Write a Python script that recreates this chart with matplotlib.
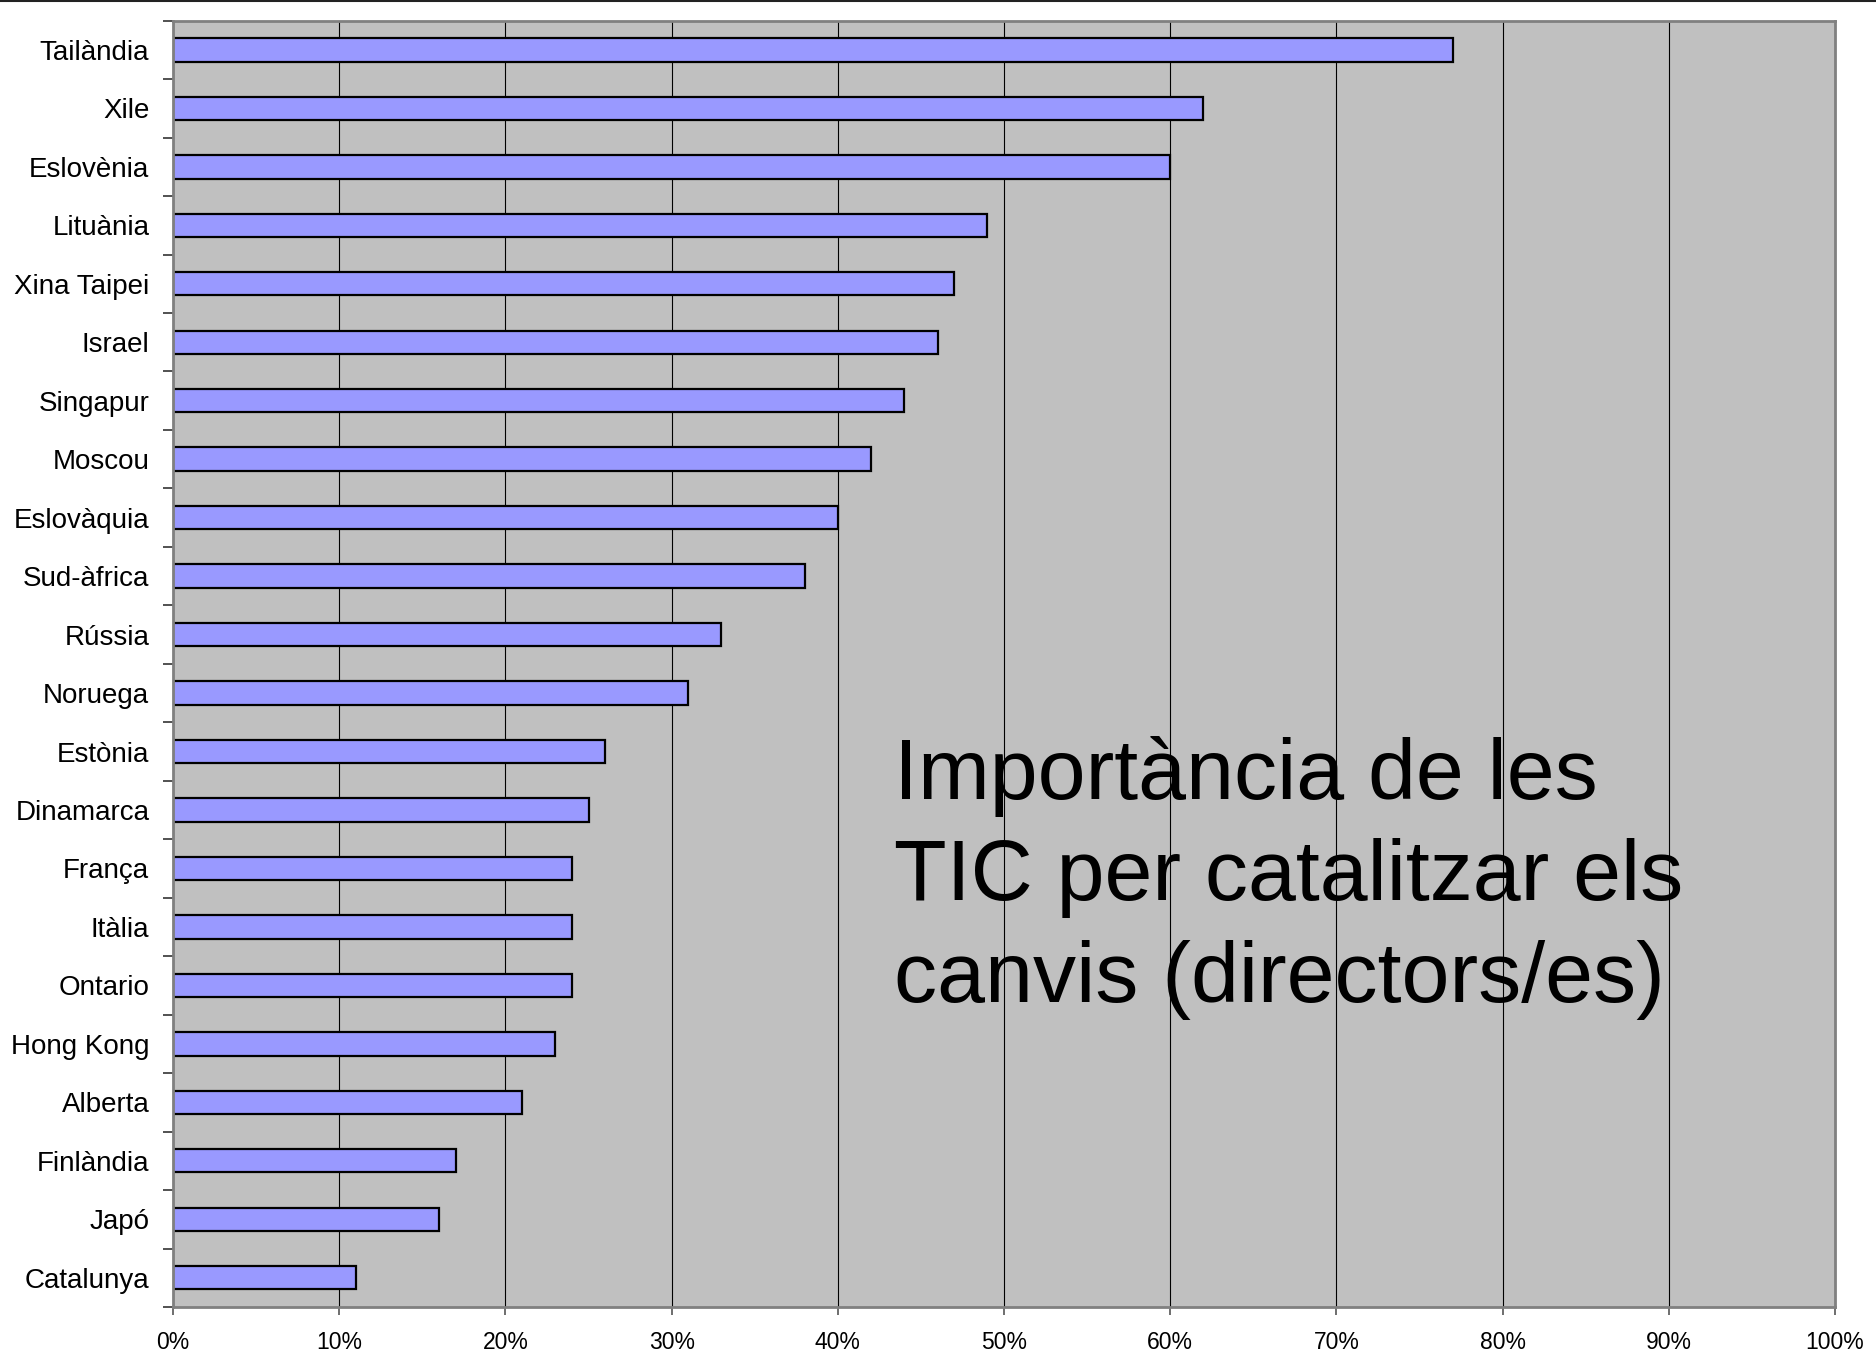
import matplotlib
matplotlib.use("Agg")
import matplotlib.pyplot as plt
from matplotlib.lines import Line2D
from matplotlib.ticker import FixedLocator, PercentFormatter


plt.rcParams["font.family"] = ["Liberation Sans", "DejaVu Sans"]

countries = [
    "Tailàndia", "Xile", "Eslovènia", "Lituània", "Xina Taipei", "Israel",
    "Singapur", "Moscou", "Eslovàquia", "Sud-àfrica", "Rússia", "Noruega",
    "Estònia", "Dinamarca", "França", "Itàlia", "Ontario", "Hong Kong",
    "Alberta", "Finlàndia", "Japó", "Catalunya",
]
values = [77, 62, 60, 49, 47, 46, 44, 42, 40, 38, 33, 31,
          26, 25, 24, 24, 24, 23, 21, 17, 16, 11]
x_ticks = list(range(0, 101, 10))
title_text = "Importància de les\nTIC per catalitzar els\ncanvis (directors/es)"

fig = plt.figure(figsize=(18.76, 13.61), dpi=100)
ax = fig.add_axes([0.0922, 0.0397, 0.886, 0.9451])

# bars from top to bottom
y = list(range(len(countries)))[::-1]
ax.barh(y, values, height=0.4, color="#9999ff", edgecolor="black",
        linewidth=1.6, zorder=3)

ax.set_facecolor("#c0c0c0")
ax.set_xlim(0, 100)
ax.set_ylim(-0.5, len(countries) - 0.5)

ax.set_xticks(x_ticks)
ax.xaxis.set_major_formatter(PercentFormatter(decimals=0))
ax.grid(axis="x", color="black", linewidth=0.8, zorder=1)

ax.set_yticks(y)
ax.set_yticklabels(countries)
ax.yaxis.set_minor_locator(FixedLocator([i - 0.5 for i in range(len(countries) + 1)]))
ax.tick_params(axis="y", which="major", length=0, pad=17, labelsize=20)
ax.tick_params(axis="y", which="minor", length=7, width=1.2, color="#333333")
ax.tick_params(axis="x", which="major", length=6, width=1.2, color="#555555",
               labelsize=16.5, pad=11)

for s in ax.spines.values():
    s.set_color("#808080")
    s.set_linewidth(2)
    s.set_zorder(4)

# baseline here is the last line of the block
ax.text(0.4335, 0.2371, title_text, transform=ax.transAxes, fontsize=62,
        ha="left", va="baseline", linespacing=1.35, color="black", zorder=5)

# rule across the top of the page
fig.add_artist(Line2D([0, 1], [0.9989, 0.9989], transform=fig.transFigure,
                      color="#222222", linewidth=1.5))

fig.savefig("out.png", dpi=100)
